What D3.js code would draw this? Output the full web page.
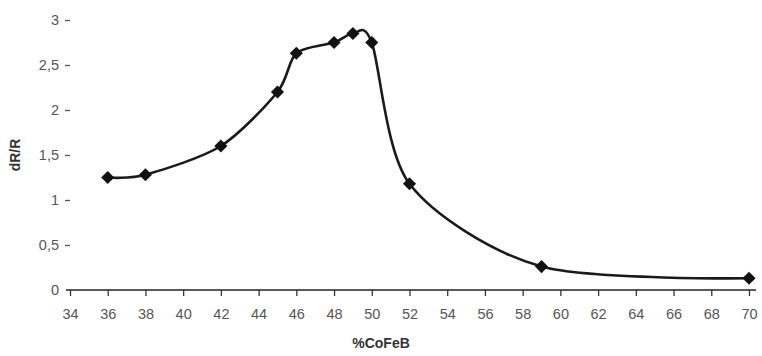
<!DOCTYPE html>
<html>
<head>
<meta charset="utf-8">
<script src="https://cdn.jsdelivr.net/npm/d3@7"></script>
<style>
  body { margin: 0; background: #fff; }
  text { font-family: "Liberation Sans", Arial, sans-serif; }
</style>
</head>
<body>
<div id="chart"></div>
<script>
// valores
const cofeb = [36, 38, 42, 45, 46, 48, 49, 50, 52, 59, 70];
const dRR = [1.25, 1.28, 1.6, 2.2, 2.63, 2.75, 2.85, 2.75, 1.18, 0.26, 0.13];
const ticksX = d3.range(34, 71, 2);
const ticksY = [0, 0.5, 1, 1.5, 2, 2.5, 3];

const ancho = 762, alto = 356;
const svg = d3.select('#chart').append('svg')
    .attr('width', ancho).attr('height', alto);

const x = d3.scaleLinear().domain([34, 70]).range([70, 749]);
const y = d3.scaleLinear().domain([0, 3]).range([290, 20]);

const fmt = v => String(v).replace('.', ',');

// eje X
const ejeX = svg.append('g').attr('transform', 'translate(0,290)')
    .call(d3.axisBottom(x).tickValues(ticksX).tickSize(6).tickPadding(13).tickFormat(d => d));
ejeX.select('.domain').attr('d', 'M66,0H756').attr('stroke', '#222').attr('stroke-width', 1.6);
ejeX.selectAll('.tick line').attr('stroke', '#333').attr('stroke-width', 1.3);
ejeX.selectAll('.tick text').attr('fill', '#555').attr('font-size', 14.5);

// eje Y (solo marcas, sin línea)
const ejeY = svg.append('g').attr('transform', 'translate(70,0)')
    .call(d3.axisLeft(y).tickValues(ticksY).tickSize(5).tickPadding(6).tickFormat(fmt));
ejeY.select('.domain').remove();
ejeY.selectAll('.tick line').attr('stroke', '#555').attr('stroke-width', 1.3);
ejeY.selectAll('.tick text').attr('fill', '#555').attr('font-size', 14.5);
ejeY.selectAll('.tick').filter(d => d === 0).select('line').remove();

// títulos
svg.append('text').attr('x', 381).attr('y', 348).attr('text-anchor', 'middle')
    .attr('font-size', 14).attr('font-weight', 'bold').attr('fill', '#333').text('%CoFeB');
svg.append('text').attr('transform', 'translate(20,155) rotate(-90)').attr('text-anchor', 'middle')
    .attr('font-size', 14).attr('font-weight', 'bold').attr('fill', '#333').text('dR/R');

// curva suavizada
const puntos = cofeb.map((c, i) => [c, dRR[i]]);
const linea = d3.line().x(d => x(d[0])).y(d => y(d[1])).curve(d3.curveCardinal.tension(0.15));
svg.append('path').datum(puntos).attr('d', linea)
    .attr('fill', 'none').attr('stroke', '#1a1a1a').attr('stroke-width', 2.6);

// marcadores en rombo
svg.selectAll('.marca').data(puntos).enter().append('path')
    .attr('class', 'marca')
    .attr('transform', d => `translate(${x(d[0])},${y(d[1])})`)
    .attr('d', d3.symbol().type(d3.symbolDiamond2).size(110))
    .attr('fill', '#111');
</script>
</body>
</html>
